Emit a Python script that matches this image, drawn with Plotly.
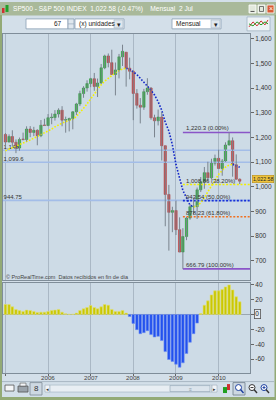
import plotly.graph_objects as go

W, H = 276, 400

# ---------------- data ----------------
months = [f"{y}-{m:02d}-01" for y in range(2005, 2011) for m in range(1, 13)][:67]

opens = [1211.9, 1181.3, 1203.6, 1180.6, 1156.9, 1191.5, 1191.3, 1234.2, 1220.3, 1228.8, 1207.0, 1249.5,
         1248.3, 1280.1, 1280.7, 1294.9, 1310.6, 1270.1, 1270.2, 1276.7, 1303.8, 1335.9, 1377.9, 1400.6,
         1418.3, 1438.2, 1406.8, 1420.9, 1482.4, 1530.6, 1503.4, 1455.3, 1473.9, 1526.8, 1545.8, 1481.1,
         1468.4, 1378.6, 1330.6, 1322.7, 1385.6, 1400.4, 1280.0, 1267.4, 1282.8, 1166.4, 968.8, 896.2,
         903.3, 825.9, 735.1, 797.9, 872.8, 919.1, 919.3, 987.5, 1020.6, 1057.1, 1036.2, 1095.6,
         1115.1, 1073.9, 1104.5, 1169.4, 1186.7, 1089.4, 1030.7]
highs = [1217.8, 1212.4, 1229.1, 1191.9, 1199.6, 1219.6, 1245.2, 1245.9, 1243.1, 1233.3, 1270.6, 1275.8,
         1294.9, 1297.6, 1310.9, 1318.2, 1326.7, 1284.4, 1280.4, 1306.7, 1340.3, 1389.5, 1407.9, 1431.8,
         1441.6, 1461.6, 1438.9, 1498.0, 1535.6, 1540.6, 1555.9, 1503.9, 1538.7, 1576.1, 1545.8, 1523.6,
         1471.8, 1396.0, 1359.7, 1397.0, 1440.2, 1404.1, 1292.2, 1313.2, 1303.0, 1167.0, 1007.5, 918.9,
         943.9, 875.9, 832.0, 877.5, 930.2, 956.2, 996.7, 1039.5, 1080.2, 1101.4, 1113.7, 1130.4,
         1150.5, 1112.4, 1180.2, 1220.3, 1200.0, 1131.2, 1033.6]
lows = [1163.8, 1180.0, 1163.7, 1136.2, 1146.2, 1188.3, 1183.6, 1201.1, 1205.4, 1168.2, 1201.1, 1246.6,
        1245.7, 1253.6, 1268.4, 1280.7, 1245.3, 1219.3, 1224.5, 1233.0, 1290.9, 1327.1, 1360.9, 1385.9,
        1403.9, 1389.4, 1363.9, 1416.4, 1476.7, 1484.2, 1454.3, 1370.6, 1439.5, 1489.6, 1406.1, 1435.7,
        1270.1, 1316.8, 1256.9, 1312.0, 1373.1, 1272.0, 1200.4, 1248.6, 1106.4, 839.8, 741.0, 815.7,
        804.2, 734.5, 666.8, 783.4, 866.1, 888.9, 869.3, 978.5, 991.9, 1020.2, 1029.4, 1085.9,
        1071.6, 1044.5, 1100.7, 1167.1, 1040.8, 1028.3, 1010.9]
closes = [1181.3, 1203.6, 1180.6, 1156.9, 1191.5, 1191.3, 1234.2, 1220.3, 1228.8, 1207.0, 1249.5, 1248.3,
          1280.1, 1280.7, 1294.9, 1310.6, 1270.1, 1270.2, 1276.7, 1303.8, 1335.9, 1377.9, 1400.6, 1418.3,
          1438.2, 1406.8, 1420.9, 1482.4, 1530.6, 1503.4, 1455.3, 1473.9, 1526.8, 1549.4, 1481.1, 1468.4,
          1378.6, 1330.6, 1322.7, 1385.6, 1400.4, 1280.0, 1267.4, 1282.8, 1166.4, 968.8, 896.2, 903.3,
          825.9, 735.1, 797.9, 872.8, 919.1, 919.3, 987.5, 1020.6, 1057.1, 1036.2, 1095.6, 1115.1,
          1073.9, 1104.5, 1169.4, 1186.7, 1089.4, 1030.7, 1022.6]

trend_ma = [1146, 1152, 1158, 1164, 1170, 1176, 1183, 1190, 1197, 1204,
            1211, 1218, 1226, 1234, 1243, 1252, 1258, 1264, 1270, 1274,
            1285, 1300, 1318, 1336, 1356, 1376, 1396, 1414, 1428, 1440,
            1452, 1462, 1471, 1478, 1481, 1476, 1466, 1455, 1440, 1424,
            1410, 1392, 1372, 1345, 1310, 1262, 1226, 1170, 1090, 1040,
            985, 955, 925, 918, 922, 935, 955, 980, 1004, 1028,
            1050, 1066, 1080, 1088, 1091, 1086, 1079]

momentum = [13.3, 13.3, 10.2, 6.7, 5.3, 4.0, 5.8, 5.3, 4.0, 2.7, 3.1, 3.1,
            4.0, 5.3, 5.8, 6.7, 3.1, 0.9, 0.3, 0.3, 1.8, 5.3, 7.6, 9.3,
            12.0, 9.3, 7.6, 10.2, 13.3, 12.4, 6.7, 4.0, 4.0, 5.3, 1.8, -2.7,
            -12.0, -20.4, -25.8, -24.4, -21.8, -27.0, -30.2, -29.3, -35.0, -49.8, -60.4, -63.0,
            -66.7, -70.7, -64.9, -52.4, -37.3, -25.8, -11.6, 1.3, 12.4, 18.2, 26.2, 31.6,
            31.6, 33.3, 36.9, 39.6, 32.9, 23.6, 16.9]

support_levels = [1148.0, 1099.6, 944.75]
support_labels = ["1,148", "1,099.6", "944.75"]

fib_start = "2009-03-01"
fib_high = 1220.3
fib_low = 666.79
fib_ratios = [0.382, 0.5, 0.618]
fib_texts = ["1,008.86 (38.20%)", "943.54 (50.00%)", "878.23 (61.80%)"]
fib_colors = ["#f2f000", "#1830d8", "#f07020"]
fib_high_text = "1,220.3 (0.00%)"
fib_low_text = "666.79 (100.00%)"

last_price = 1022.58
last_price_text = "1,022.58"
price_ticks = [700, 800, 900, 1000, 1100, 1200, 1300, 1400, 1500, 1600]
mom_ticks = [-60, -40, -20, 0, 20, 40]
year_ticks = ["2005-01-01", "2006-01-01", "2007-01-01", "2008-01-01", "2009-01-01", "2010-01-01"]
year_labels = ["", "2006", "2007", "2008", "2009", "2010"]
x_range = ["2004-12-11", "2010-09-27"]
title_text = "SP500 - S&P 500 INDEX  1,022.58 (-0.47%)    Mensual  2 Jul"
credit_text = "© ProRealTime.com  Datos recibidos en fin de día"

FONT = "Liberation Sans"
BG = "#cddbe6"
GRID = "#aab8c5"
BORDER = "#7f8d99"

fig = go.Figure()

# support lines (behind candles)
for lvl in support_levels:
    fig.add_trace(go.Scatter(x=x_range, y=[lvl, lvl], mode="lines",
                             line=dict(color="#a3bde8", width=1.6), xaxis="x", yaxis="y", hoverinfo="skip"))
fig.add_trace(go.Scatter(x=["2004-12-16"] * len(support_levels), y=support_levels, text=support_labels,
                         mode="text", textposition="top right",
                         textfont=dict(size=6, color="#333", family=FONT), xaxis="x", yaxis="y", hoverinfo="skip"))

# fibonacci
for val in [fib_high, fib_low]:
    fig.add_trace(go.Scatter(x=[fib_start, x_range[1]], y=[val, val], mode="lines",
                             line=dict(color="#8a55c8", width=1.6), xaxis="x", yaxis="y", hoverinfo="skip"))
for r, c in zip(fib_ratios, fib_colors):
    v = fib_high - r * (fib_high - fib_low)
    fig.add_trace(go.Scatter(x=[fib_start, x_range[1]], y=[v, v], mode="lines",
                             line=dict(color=c, width=1.6, dash="2px,1.6px"), xaxis="x", yaxis="y", hoverinfo="skip"))

# trend MA: yellow rising, blue falling
runs = []
cur_dir, cur = None, [0]
for i in range(1, len(trend_ma)):
    d = trend_ma[i] >= trend_ma[i - 1]
    if cur_dir is None or d == cur_dir:
        cur.append(i)
    else:
        runs.append((cur_dir, cur))
        cur = [i - 1, i]
    cur_dir = d
runs.append((cur_dir, cur))
for d, idxs in runs:
    fig.add_trace(go.Scatter(x=[months[i] for i in idxs], y=[trend_ma[i] for i in idxs], mode="lines",
                             line=dict(color="#f4f000" if d else "#1428c8", width=1.6, dash="1.6px,1.6px"),
                             xaxis="x", yaxis="y", hoverinfo="skip"))

# candles: wicks
wx, wy = [], []
for m, hi, lo in zip(months, highs, lows):
    wx += [m, m, None]
    wy += [lo, hi, None]
fig.add_trace(go.Scatter(x=wx, y=wy, mode="lines", line=dict(color="#7a848e", width=1),
                         xaxis="x", yaxis="y", hoverinfo="skip"))
# candle bodies
bases = [min(o, c) for o, c in zip(opens, closes)]
heights = [max(abs(c - o), 2.5) for o, c in zip(opens, closes)]
cols = ["#2fb83c" if c >= o else "#d44848" for o, c in zip(opens, closes)]
lcols = ["#1f8a2c" if c >= o else "#a83030" for o, c in zip(opens, closes)]
fig.add_trace(go.Bar(x=months, y=heights, base=bases, width=20 * 86400000,
                     marker=dict(color=cols, line=dict(color=lcols, width=0.5)),
                     xaxis="x", yaxis="y", hoverinfo="skip"))

# momentum histogram
mcols = ["#cbc800" if v >= 0 else "#2150ee" for v in momentum]
mline = ["#e2e070" if v >= 0 else "#6f8ff4" for v in momentum]
fig.add_trace(go.Bar(x=months, y=momentum, marker=dict(color=mcols, line=dict(color=mline, width=0.6)),
                     xaxis="x2", yaxis="y2", hoverinfo="skip"))

xd = [3 / W, 250 / W]
axis_common = dict(showline=True, mirror=True, linecolor=BORDER, linewidth=1, zeroline=False)
fig.update_layout(
    width=W, height=H, autosize=False, margin=dict(l=0, r=0, t=0, b=0),
    paper_bgcolor="#d3dfe9", plot_bgcolor=BG, showlegend=False, bargap=0.2,
    font=dict(family=FONT, size=7, color="#333"),
    xaxis=dict(domain=xd, anchor="y", type="date", range=x_range, tickvals=year_ticks,
               showticklabels=False, ticks="", showgrid=True, gridcolor=GRID, gridwidth=1, **axis_common),
    yaxis=dict(domain=[1 - 279 / H, 1 - 32 / H], anchor="x", range=[623.4, 1620.2], side="right",
               tickvals=price_ticks, ticktext=[f"{v:,}" for v in price_ticks], ticks="outside", ticklen=3,
               tickcolor="#666", tickfont=dict(size=6.5, color="#333", family=FONT), showgrid=False,
               **axis_common),
    xaxis2=dict(domain=xd, anchor="y2", type="date", range=x_range, tickvals=year_ticks,
                showticklabels=False, ticks="outside", ticklen=2, tickcolor="#666",
                showgrid=True, gridcolor=GRID, gridwidth=1, **axis_common),
    yaxis2=dict(domain=[1 - 373 / H, 1 - 282 / H], anchor="x2", range=[-78.7, 42.7], side="right",
                tickvals=mom_ticks, ticktext=[("" if v == 0 else str(v)) for v in mom_ticks], ticks="outside",
                ticklen=3, tickcolor="#666", tickfont=dict(size=6.5, color="#333", family=FONT),
                showgrid=False, showline=True, mirror=True, linecolor=BORDER, linewidth=1,
                zeroline=True, zerolinecolor="#9aa6b0", zerolinewidth=1),
)

# ---------------- window chrome ----------------
shapes = []
annos = []


def rect(x0, y0, x1, y1, fill, line=None, lw=1, layer="above"):
    shapes.append(dict(type="rect", xref="paper", yref="paper", x0=x0 / W, x1=x1 / W,
                       y0=1 - y1 / H, y1=1 - y0 / H, fillcolor=fill,
                       line=dict(color=line if line else fill, width=lw if line else 0), layer=layer))


def circle(x0, y0, x1, y1, fill, line, lw=1):
    shapes.append(dict(type="circle", xref="paper", yref="paper", x0=x0 / W, x1=x1 / W,
                       y0=1 - y1 / H, y1=1 - y0 / H, fillcolor=fill, line=dict(color=line, width=lw)))


def pline(x0, y0, x1, y1, color, lw=1):
    shapes.append(dict(type="line", xref="paper", yref="paper", x0=x0 / W, x1=x1 / W,
                       y0=1 - y0 / H, y1=1 - y1 / H, line=dict(color=color, width=lw)))


def text(x, y, s, size=7, color="#222", xanchor="left", **kw):
    annos.append(dict(xref="paper", yref="paper", x=x / W, y=1 - y / H, text=s, showarrow=False,
                      xanchor=xanchor, yanchor="middle", font=dict(size=size, color=color, family=FONT), **kw))


# title bar
rect(0, 0, 276, 13.5, "#a9b99a")
rect(2, 6, 4.5, 11, "#d03030")
rect(5.5, 3, 8.5, 10, "#22a02a")
text(11, 7, title_text, size=6.6, color="#ffffff")
for bx, fc in [(249, "#e2e8dc"), (258, "#e2e8dc"), (267, "#d85a34")]:
    rect(bx, 3, bx + 7, 11, fc, "#ffffff", 0.8)
pline(250.5, 9.5, 254.5, 9.5, "#555", 1)
rect(259.5, 4.5, 263.5, 9.5, "rgba(0,0,0,0)", "#555", 0.8)
text(270.5, 7, "×", size=7, color="#ffffff", xanchor="center")

# window border
rect(0, 13, 2, 400, "#93aa76")
rect(274.5, 13, 276, 400, "#93aa76")
rect(0, 397, 276, 400, "#93aa76")

# toolbar
rect(26, 17, 68, 27, "#ffffff", "#8aa0b4", 0.8)
text(64, 22, "67", size=6.5, color="#222", xanchor="right")
rect(68, 17, 74, 27, "#dfe7ee", "#8aa0b4", 0.8)
pline(68, 22, 74, 22, "#8aa0b4", 0.6)
rect(75, 17, 124, 27, "#ffffff", "#8aa0b4", 0.8)
text(77, 22, "(x) unidades", size=6.5, color="#222")
rect(114, 18, 123, 26, "#dfe7ee", "#9fb2c3", 0.6)
text(118.5, 22.5, "▾", size=7, color="#222", xanchor="center")
rect(172, 17, 221, 27, "#ffffff", "#8aa0b4", 0.8)
text(174, 22, "Mensual", size=6.5, color="#222")
rect(211, 18, 220, 26, "#dfe7ee", "#9fb2c3", 0.6)
text(215.5, 22.5, "▾", size=7, color="#222", xanchor="center")
rect(247, 15, 270, 29, "#eef3f6", "#9fb2c3", 0.8)
shapes.append(dict(type="path", xref="paper", yref="paper",
                   path=" ".join([("M" if i == 0 else "L") + f"{x / W},{1 - y / H}" for i, (x, y) in
                                  enumerate([(249, 25), (253, 20), (257, 24), (261, 19), (265, 23), (268, 18)])]),
                   line=dict(color="#d03030", width=1)))
shapes.append(dict(type="path", xref="paper", yref="paper",
                   path=" ".join([("M" if i == 0 else "L") + f"{x / W},{1 - y / H}" for i, (x, y) in
                                  enumerate([(249, 22), (253, 24), (257, 20), (261, 23), (265, 20), (268, 22)])]),
                   line=dict(color="#20a020", width=1)))

# bottom toolbar
pline(2, 381.5, 274, 381.5, "#a9b7c3", 1)
rect(5, 385, 14, 391, "#f4f6f8", "#555", 0.8)
rect(18, 386, 28, 392, "#9aa3ab", "#555", 0.8)
rect(20, 383, 26, 386, "#f4f6f8", "#555", 0.6)
rect(30, 382.5, 42, 395, "#cdd8e2", "#7d8b97", 0.8)
text(36, 388.5, "8", size=8, color="#333", xanchor="center")
rect(45, 385, 50, 392, "#f2f5f8", "#9aabb9", 0.6)
text(47.5, 388.5, "◂", size=5, color="#333", xanchor="center")
rect(50, 385, 212, 392, "#e8eef3", "#9fb1c0", 0.6)
rect(170, 385.5, 210, 391.5, "#dbe4ec", "#8fa2b3", 0.6)
text(190, 388.5, "≡", size=5, color="#8c9aa7", xanchor="center")
rect(212, 385, 217, 392, "#f2f5f8", "#9aabb9", 0.6)
text(214.5, 388.5, "▸", size=5, color="#333", xanchor="center")
rect(223, 387, 227, 393, "#20a020")
rect(227, 384, 230, 390, "#d03030")
rect(233, 382.5, 245, 395, "#cdd8e2", "#6f7e8b", 0.8)
circle(235.5, 384.5, 241.5, 390.5, "#ffffff", "#1b3fa0", 1)
pline(240.5, 389.5, 243.5, 393, "#1b3fa0", 1.4)
circle(249, 384.5, 255, 390.5, "#ffffff", "#333", 1)
pline(250.5, 387.5, 253.5, 387.5, "#333", 1)
pline(254, 389.5, 257, 393, "#333", 1.4)
circle(261, 384.5, 267, 390.5, "#ffffff", "#1b3fa0", 1)
pline(262.5, 387.5, 265.5, 387.5, "#1b3fa0", 1)
pline(264, 386, 264, 389, "#1b3fa0", 1)
pline(266, 389.5, 269, 393, "#333", 1.4)

# year labels under the indicator panel
for tv, tl in zip(year_ticks, year_labels):
    if tl:
        annos.append(dict(xref="x2", yref="paper", x=tv, y=1 - 377.5 / H, text=tl, showarrow=False,
                          xanchor="center", yanchor="middle", font=dict(size=6.2, color="#444", family=FONT)))

# chart texts
text(4, 276, credit_text, size=5.5, color="#444")
for val, txt in [(fib_high, fib_high_text), (fib_low, fib_low_text)]:
    annos.append(dict(xref="x", yref="y", x=fib_start, y=val, text=txt, showarrow=False, xanchor="left",
                      yanchor="bottom", xshift=1, yshift=-1, font=dict(size=6, color="#333", family=FONT)))
for r, txt in zip(fib_ratios, fib_texts):
    v = fib_high - r * (fib_high - fib_low)
    annos.append(dict(xref="x", yref="y", x=fib_start, y=v, text=txt, showarrow=False, xanchor="left",
                      yanchor="bottom", xshift=1, yshift=-1, font=dict(size=6, color="#333", family=FONT)))
annos.append(dict(xref="paper", yref="y", x=252 / W, y=last_price, text=last_price_text, showarrow=False,
                  xanchor="left", yanchor="middle", yshift=2, bgcolor="#efc43c", bordercolor="#b88d18",
                  borderwidth=0.6, borderpad=0.3, font=dict(size=5.3, color="#222", family=FONT)))
annos.append(dict(xref="paper", yref="y2", x=253.5 / W, y=0, text="0", showarrow=False,
                  xanchor="left", yanchor="middle", bgcolor="#e4ebf1", bordercolor="#555", borderwidth=0.8,
                  borderpad=0.5, font=dict(size=6.5, color="#222", family=FONT)))

fig.update_layout(shapes=shapes, annotations=annos)
fig.write_html("out.html", config={"displayModeBar": False})
